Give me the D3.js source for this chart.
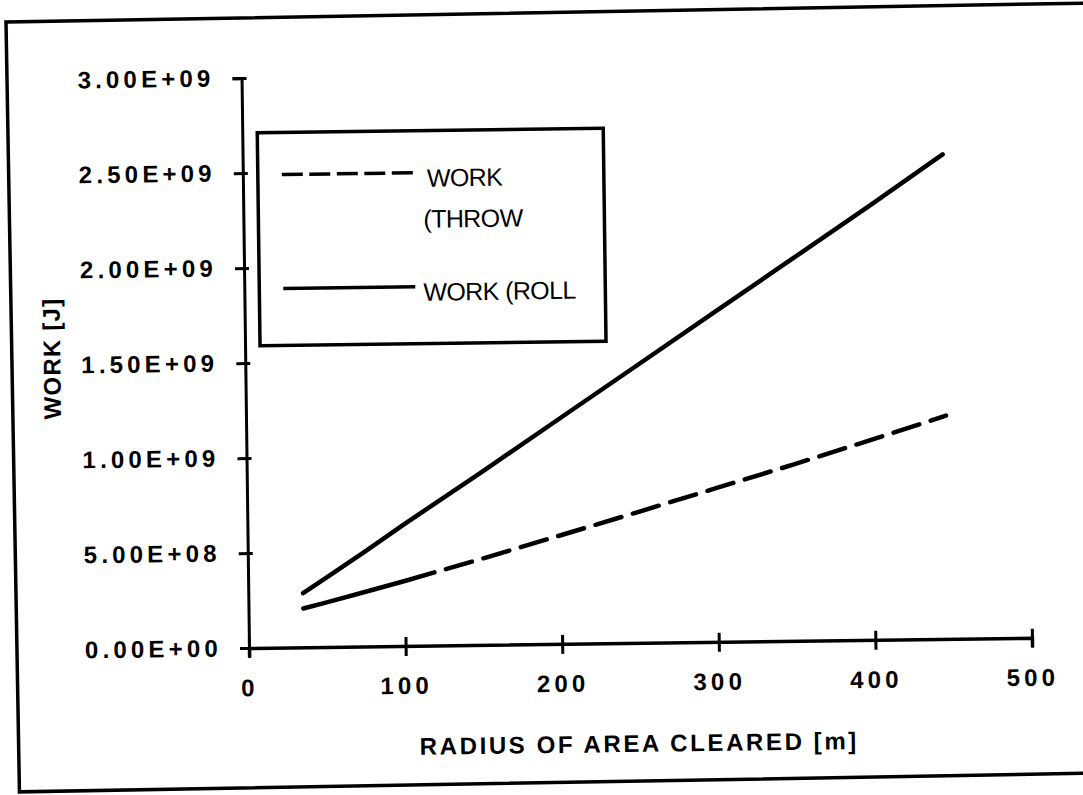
<!DOCTYPE html>
<html>
<head>
<meta charset="utf-8">
<script src="https://cdn.jsdelivr.net/npm/d3@7"></script>
<style>
  html, body { margin: 0; padding: 0; background: #fff; }
  svg { display: block; }
</style>
</head>
<body>
<svg id="chart" width="1083" height="795"></svg>
<script>
// ---- data ----
const radius    = [35, 50, 75, 100, 150, 200, 250, 300, 350, 400, 447];
const workRoll  = [2.85e8, 3.65e8, 5.0e8, 6.4e8, 9.1e8, 1.185e9, 1.46e9, 1.735e9, 2.01e9, 2.285e9, 2.55e9];
const workThrow = [2.04e8, 2.35e8, 2.88e8, 3.42e8, 4.55e8, 5.72e8, 6.9e8, 8.1e8, 9.3e8, 1.055e9, 1.175e9];
const xTicks = [0, 100, 200, 300, 400, 500];
const yTicks = [0, 5e8, 1e9, 1.5e9, 2e9, 2.5e9, 3e9];
const seriesNames = ["WORK", "(THROW", "WORK (ROLL"];
const xTitle = "RADIUS OF AREA CLEARED [m]";
const yTitle = "WORK  [J]";

const svg = d3.select("#chart");
svg.append("rect").attr("width", 1083).attr("height", 795).attr("fill", "#fff");

const FONT = "'Liberation Sans', Arial, Helvetica, sans-serif";

// outer frame (scanned page slightly rotated)
svg.append("rect")
  .attr("x", 6).attr("y", 22).attr("width", 1080).attr("height", 770)
  .attr("fill", "none").attr("stroke", "#000").attr("stroke-width", 3.5)
  .attr("transform", "rotate(-1, 6, 22)");

// plot area (unrotated coordinates)
const x0 = 249, x1 = 1032, y0 = 648, y1 = 78;
const x = d3.scaleLinear().domain([0, 500]).range([x0, x1]);
const y = d3.scaleLinear().domain([0, 3e9]).range([y0, y1]);

const g = svg.append("g").attr("transform", `rotate(-0.75, ${x0}, ${y0})`);

function sci(v) {
  if (v === 0) return "0.00E+00";
  const e = Math.floor(Math.log10(v));
  const m = v / Math.pow(10, e);
  return m.toFixed(2) + "E+" + String(e).padStart(2, "0");
}

// Y axis
const yAxis = g.append("g").attr("transform", `translate(${x0},0)`)
  .call(d3.axisLeft(y).tickValues(yTicks).tickFormat(sci).tickSizeOuter(0).tickSize(9).tickPadding(18));
yAxis.select(".domain").attr("stroke-width", 3).attr("stroke", "#000");
yAxis.selectAll(".tick line").attr("x1", 5).attr("x2", -9).attr("stroke-width", 3).attr("stroke", "#000");
yAxis.selectAll(".tick text")
  .attr("font-family", FONT).attr("font-size", 24).attr("font-weight", "bold")
  .attr("letter-spacing", 4.2).attr("fill", "#000");

// X axis
const xAxis = g.append("g").attr("transform", `translate(0,${y0})`)
  .call(d3.axisBottom(x).tickValues(xTicks).tickFormat(d3.format("d")).tickSizeOuter(0).tickSize(9).tickPadding(22));
xAxis.select(".domain").attr("stroke-width", 3.5).attr("stroke", "#000");
xAxis.selectAll(".tick line").attr("y1", -9).attr("y2", 10).attr("stroke-width", 3).attr("stroke", "#000");
xAxis.selectAll(".tick text")
  .attr("font-family", FONT).attr("font-size", 24).attr("font-weight", "bold")
  .attr("letter-spacing", 4.2).attr("fill", "#000");

// axis titles
g.append("text").attr("x", 638).attr("y", 757)
  .attr("text-anchor", "middle").attr("font-family", FONT).attr("font-size", 24)
  .attr("font-weight", "bold").attr("letter-spacing", 2.6).text(xTitle);
g.append("text").attr("transform", "translate(64,356) rotate(-90)")
  .attr("text-anchor", "middle").attr("font-family", FONT).attr("font-size", 24)
  .attr("font-weight", "bold").attr("letter-spacing", 1.2).text(yTitle);

// series lines
const line = d3.line().x(d => x(d[0])).y(d => y(d[1]));
g.append("path").datum(d3.zip(radius, workRoll))
  .attr("d", line).attr("fill", "none").attr("stroke", "#000")
  .attr("stroke-width", 4.5).attr("stroke-linecap", "round");

const thr = g.append("path").datum(d3.zip(radius, workThrow))
  .attr("d", line).attr("fill", "none").attr("stroke", "#000")
  .attr("stroke-width", 4.5).attr("stroke-linecap", "round");
const L = thr.node().getTotalLength();
const dash = [136, 12];
let tot = 148;
while (tot < L + 40) { dash.push(27, 12); tot += 39; }
thr.attr("stroke-dasharray", dash.join(","));

// legend
const lg = g.append("g");
lg.append("rect").attr("x", 264).attr("y", 133).attr("width", 346).attr("height", 213)
  .attr("fill", "#fff").attr("stroke", "#000").attr("stroke-width", 3.5);
lg.append("line").attr("x1", 288).attr("x2", 419).attr("y1", 175).attr("y2", 175)
  .attr("stroke", "#000").attr("stroke-width", 3.5).attr("stroke-dasharray", "21,6.5");
lg.append("line").attr("x1", 288).attr("x2", 420).attr("y1", 289).attr("y2", 289)
  .attr("stroke", "#000").attr("stroke-width", 3.5);
const lt = [[433, 189, seriesNames[0]], [429, 230, seriesNames[1]], [428, 303, seriesNames[2]]];
lg.selectAll("text.lgt").data(lt).enter().append("text").attr("class", "lgt")
  .attr("x", d => d[0]).attr("y", d => d[1])
  .attr("font-family", FONT).attr("font-size", 25).attr("letter-spacing", -0.6)
  .text(d => d[2]);
</script>
</body>
</html>
